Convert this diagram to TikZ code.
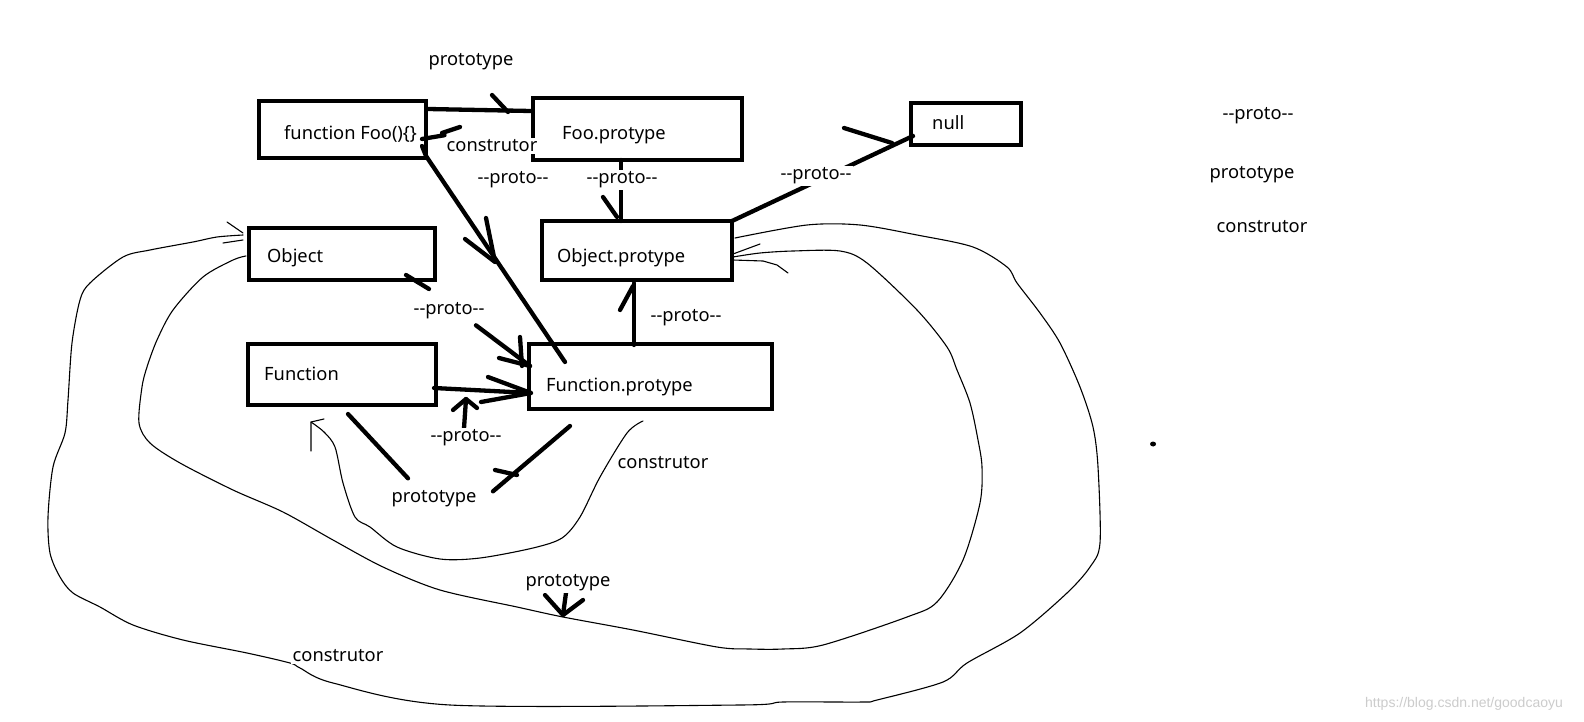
\documentclass[tikz,border=0pt]{standalone}
\usepackage{fontspec}
\newfontfamily\hand{Noto Sans}
\newfontfamily\wmfont{Liberation Sans}
\pgfdeclarelayer{bg}
\pgfsetlayers{bg,main}
\tikzset{
  box/.style={draw, line width=4.3pt, inner sep=0pt, outer sep=0pt},
  txt/.style={font=\hand\fontsize{18.3}{22}\selectfont, inner sep=1pt},
  lab/.style={txt, fill=white, inner sep=2pt, anchor=mid},
  hl/.style={line width=4.3pt, line cap=round, line join=round},
  tl/.style={line width=1.1pt, line cap=round, line join=round},
}
\begin{document}
\begin{tikzpicture}[x=1pt,y=-1pt]
\useasboundingbox (0,0) rectangle (1584,722);
% boxes
\node[box, minimum width=167, minimum height=57] (foo) at (342.5,129.5) {};
\node[txt, anchor=mid west] (footxt) at (283,137.5) {function Foo()\{\}};
\node[box, minimum width=209, minimum height=62] (fp) at (637.5,129) {};
\node[txt, anchor=mid west] (fptxt) at (561,137.5) {Foo.protype};
\node[box, minimum width=110, minimum height=42] (null) at (966,124) {};
\node[txt, anchor=mid west] (nulltxt) at (931,127.5) {null};
\node[box, minimum width=186, minimum height=52] (obj) at (342,254) {};
\node[txt, anchor=mid west] (objtxt) at (266,260.5) {Object};
\node[box, minimum width=190, minimum height=59] (op) at (637,250.5) {};
\node[txt, anchor=mid west] (optxt) at (556,260.5) {Object.protype};
\node[box, minimum width=188, minimum height=61] (fn) at (342,374.5) {};
\node[txt, anchor=mid west] (fntxt) at (263,378.5) {Function};
\node[box, minimum width=243, minimum height=65] (fnp) at (650.5,376.5) {};
\node[txt, anchor=mid west] (fnptxt) at (545,389.5) {Function.protype};
% labels
\node[lab] (ptA) at (471,63.5) {prototype};
\node[lab] (ctorA) at (492,149.5) {construtor};
\node[lab] (prA) at (513,181.5) {--proto--};
\node[lab] (prB) at (622,181.5) {--proto--};
\node[lab] (prC) at (816,177.5) {--proto--};
\node[lab] (prD) at (449,312.5) {--proto--};
\node[lab] (prE) at (686,319.5) {--proto--};
\node[lab] (prF) at (466,439.5) {--proto--};
\node[lab] (ptB) at (434,500.5) {prototype};
\node[lab] (ctorB) at (663,466.5) {construtor};
\node[lab] (ptC) at (568,584.5) {prototype};
\node[lab] (ctorC) at (338,659.5) {construtor};
\node[lab] (lgA) at (1258,117.5) {--proto--};
\node[lab] (lgB) at (1252,176.5) {prototype};
\node[lab] (lgC) at (1262,230.5) {construtor};
\node[font=\wmfont\fontsize{14}{16}\selectfont, text=black!20, anchor=mid] (wm) at (1464,705) {https://blog.csdn.net/goodcaoyu};
\fill (1153,444) ellipse [x radius=3pt, y radius=2.5pt];
\begin{pgfonlayer}{bg}
\fill[white] (0,0) rectangle (1584,722);
% Foo -> Foo.protype (prototype)
\draw[hl] ([shift={(2,-20.5)}]foo.east) -- ([shift={(-2,-18)}]fp.west);
\draw[hl] (492,95) -- (508,112);
% construtor -> Foo
\draw[hl] ([shift={(0,-10.5)}]ctorA.west) -- ([shift={(-4,9.5)}]foo.east);
\draw[hl] (442,133) -- (460,127);
% Foo -> Function.protype
\draw[hl] ([shift={(-4,16.5)}]foo.east) -- ([shift={(0,26.5)}]foo.east) -- ([shift={(-85.5,18)}]fnp.north);
\draw[hl] (465,239) -- (495,262) (486,218) -- (495,262);
% Foo.protype -> Object.protype
\draw[hl] ([shift={(-16.5,0)}]fp.south) -- ([shift={(-16,0)}]op.north);
\draw[hl] (603,197) -- (617,217);
% Object.protype -> null
\draw[hl] (op.north east) -- ([shift={(2,12)}]null.west);
\draw[hl] (844,128) -- (892,143);
% Object -> Function.protype
\draw[hl] ([shift={(-29,-5)}]obj.south east) -- ([shift={(-6,9)}]obj.south east);
\draw[hl] ([shift={(27,14.5)}]prD.center) -- ([shift={(1,-10.5)}]fnp.west);
\draw[hl] (520,337) -- (522,366) (499,358) -- (530,366);
% Function -> Function.protype
\draw[hl] ([shift={(-2,13.5)}]fn.east) -- ([shift={(2,16.5)}]fnp.west);
\draw[hl] (488,377) -- (531,393) -- (481,402);
% up arrow
\draw[hl] ([shift={(-2,-9.5)}]prF.center) -- (466,399);
\draw[hl] (453,410) -- (466,399) -- (477,408);
% Function.protype -> Object.protype
\draw[hl] ([shift={(-16.5,1)}]fnp.north) -- ([shift={(-3,3)}]op.south);
\draw[hl] (620,310) -- (633,286);
% Function -> prototype -> Function.protype
\draw[hl] ([shift={(6,9)}]fn.south) -- ([shift={(-26,-20.5)}]ptB.center);
\draw[hl] ([shift={(59,-7.5)}]ptB.center) -- ([shift={(-80.5,17)}]fnp.south);
\draw[hl] (495,470) -- (517,475);
% inner construtor curve: Function.protype -> Function
\draw[tl] plot[smooth, tension=0.5] coordinates {(643,421) (627,433) (600,477) (580,517) (562,538) (533,548) (480,558) (440,559) (397,547) (370,527) (355,517) (343,483) (335,447) (324,432) (311,422)};
\draw[tl] (324,419) -- (311,422) -- (311,451);
% prototype curve: Object -> Object.protype
\draw[tl] plot[smooth, tension=0.5] coordinates {(246,256) (233,260) (203,277) (173,310) (157,340) (147,367) (142,387) (139,423) (150,443) (180,463) (233,490) (283,512) (333,540) (383,567) (440,590) (517,607) (563,617) (633,630) (717,647) (750,649) (783,649) (823,645) (907,617) (937,602) (963,560) (980,503) (982,467) (978,440) (970,403) (957,370) (947,347) (917,310) (867,263) (840,251) (793,251) (760,253) (733,257)};
\draw[tl] (733,254) -- (760,244);
\draw[tl] (733,260) -- (763,261) -- (777,265) -- (788,273);
\draw[hl] ([shift={(-1,2.5)}]ptC.center) -- (563,615);
\draw[hl] (545,595) -- (563,615) -- (583,600);
% outer construtor curve: Object.protype -> Object
\draw[tl] plot[smooth, tension=0.5] coordinates {(735,238) (807,225) (860,225) (917,235) (973,247) (1007,267) (1017,283) (1040,313) (1060,343) (1080,387) (1093,427) (1098,467) (1100,543) (1090,567) (1067,593) (1020,633) (967,663) (943,682) (877,700) (863,702) (783,702) (740,705) (450,705) (333,683) (300,668) (290,663) (247,653) (183,640) (133,625) (100,607) (73,593) (60,577) (50,553) (48,517) (53,467) (65,433) (68,400) (72,343) (80,300) (90,283) (123,257) (150,250) (193,242) (217,237) (243,235)};
\draw[tl] (227,222) -- (243,233);
\draw[tl] (223,243) -- (243,240);
\end{pgfonlayer}
\end{tikzpicture}
\end{document}
